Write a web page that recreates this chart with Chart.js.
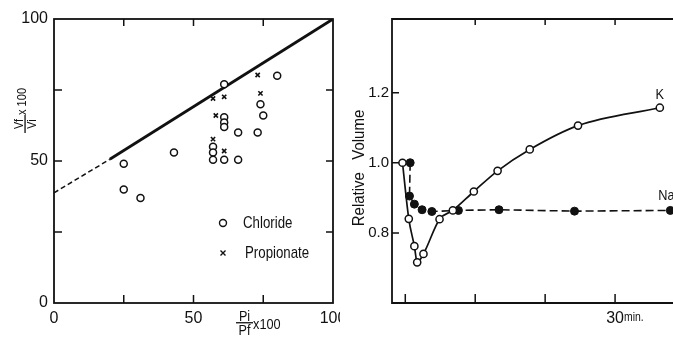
<!DOCTYPE html>
<html>
<head>
<meta charset="utf-8">
<script src="https://cdn.jsdelivr.net/npm/chart.js@4.4.1/dist/chart.umd.min.js"></script>
<style>
  body { margin: 0; background: #fff; width: 673px; height: 337px; overflow: hidden; position: relative; }
  .panel { position: absolute; top: 0; height: 337px; overflow: hidden; }
  #left { left: 0; width: 340px; }
  #right { left: 340px; width: 333px; }
  canvas { position: absolute; top: 0; left: 0; }
</style>
</head>
<body>
<div id="left" class="panel"><canvas id="volChart" width="370" height="337"></canvas></div>
<div id="right" class="panel"><canvas id="timeChart" width="373" height="337"></canvas></div>
<script>
// --- left panel: Vf/Vi x100 vs Pi/Pf x100 ---
const chlorideX = [25, 25, 31, 43, 61, 61, 61, 61, 66, 73, 74, 75, 80, 57, 57, 57, 61, 66];
const chlorideY = [49, 40, 37, 53, 77, 65.4, 63.6, 62, 60, 60, 70, 66, 80, 55, 53, 50.4, 50.4, 50.4];
const propionateX = [57, 61, 58, 57, 61, 73, 74];
const propionateY = [72, 72.6, 66, 57.7, 53.5, 80.3, 73.8];
const fitX = [0, 20, 100];
const fitY = [38.8, 50.6, 100];
const volTicks = [25, 50, 75];
const volLabels = [0, 50, 100];

// --- right panel: relative volume vs time (min) ---
const kTime = [-0.4, 0.5, 1.3, 1.7, 2.6, 4.9, 6.8, 9.8, 13.2, 17.8, 24.7, 36.4];
const kVol = [1.0, 0.84, 0.762, 0.716, 0.74, 0.839, 0.864, 0.918, 0.977, 1.038, 1.106, 1.157];
const naTime = [0.7, 0.6, 1.3, 2.4, 3.8, 7.6, 13.4, 24.2, 37.9];
const naVol = [1.0, 0.905, 0.882, 0.866, 0.861, 0.864, 0.866, 0.862, 0.864];
const timeTicks = [0, 10, 20, 30];
const timeLabels = [0, 30];
const volRelTicks = [0.8, 1.0, 1.2];

const ink = '#111';
const face = '"Liberation Sans Narrow", "Liberation Sans", Arial, sans-serif';

Chart.defaults.font.family = face;
Chart.defaults.color = ink;

function pairs(xs, ys) { return xs.map((x, i) => ({ x: x, y: ys[i] })); }
function near(list, v) { return list.some(t => Math.abs(t - v) < 1e-6); }

// text squeezed sideways, the original lettering is condensed
function squeezed(ctx, text, x, y, sx) {
  ctx.save();
  ctx.translate(x, y);
  ctx.scale(sx, 1);
  ctx.fillText(text, 0, 0);
  ctx.restore();
}

function fraction(ctx, num, den, cx, cy, w, size) {
  ctx.font = size + 'px ' + face;
  ctx.textAlign = 'center';
  ctx.textBaseline = 'alphabetic';
  squeezed(ctx, num, cx, cy - 2, 0.9);
  ctx.fillRect(cx - w / 2, cy - 0.6, w, 1.3);
  ctx.textBaseline = 'top';
  squeezed(ctx, den, cx, cy + 1.5, 0.9);
}

// frame + inward ticks for the left panel
const volFrame = {
  id: 'volFrame',
  beforeDatasetsDraw(chart) {
    const { ctx, chartArea: a, scales: { x, y } } = chart;
    ctx.save();
    ctx.strokeStyle = ink;
    ctx.lineWidth = 1.8;
    ctx.strokeRect(a.left, a.top, a.right - a.left, a.bottom - a.top);
    ctx.lineWidth = 1.5;
    ctx.beginPath();
    volTicks.forEach(v => {
      const px = x.getPixelForValue(v), py = y.getPixelForValue(v);
      ctx.moveTo(px, a.bottom); ctx.lineTo(px, a.bottom - 8);
      ctx.moveTo(px, a.top); ctx.lineTo(px, a.top + 7);
      ctx.moveTo(a.left, py); ctx.lineTo(a.left + 8, py);
      ctx.moveTo(a.right, py); ctx.lineTo(a.right - 7, py);
    });
    ctx.stroke();
    ctx.restore();
  },
  afterDraw(chart) {
    const { ctx } = chart;
    ctx.save();
    ctx.fillStyle = ink;
    ctx.strokeStyle = ink;
    // legend
    ctx.lineWidth = 1.4;
    ctx.beginPath(); ctx.arc(223, 223, 3.5, 0, Math.PI * 2); ctx.stroke();
    ctx.beginPath();
    ctx.moveTo(220.5, 250.5); ctx.lineTo(225.5, 255.5);
    ctx.moveTo(225.5, 250.5); ctx.lineTo(220.5, 255.5);
    ctx.stroke();
    ctx.font = '17px ' + face;
    ctx.textAlign = 'left';
    ctx.textBaseline = 'middle';
    squeezed(ctx, 'Chloride', 243, 223, 0.78);
    squeezed(ctx, 'Propionate', 245, 253, 0.78);
    // x title
    fraction(ctx, 'Pi', 'Pf', 244.5, 322.7, 17, 14);
    ctx.font = '15px ' + face;
    ctx.textAlign = 'left';
    ctx.textBaseline = 'middle';
    squeezed(ctx, 'x100', 253, 325, 0.85);
    // y title (rotated)
    ctx.translate(25, 124);
    ctx.rotate(-Math.PI / 2);
    fraction(ctx, 'Vf', 'Vi', 0, 0, 18, 12);
    ctx.font = '13px ' + face;
    ctx.textAlign = 'left';
    ctx.textBaseline = 'middle';
    squeezed(ctx, 'x 100', 9, -3, 0.85);
    ctx.restore();
  }
};

new Chart(document.getElementById('volChart'), {
  type: 'scatter',
  data: {
    datasets: [
      { label: 'Chloride', data: pairs(chlorideX, chlorideY), pointStyle: 'circle', pointRadius: 3.5,
        borderWidth: 1.5, borderColor: ink, backgroundColor: '#fff' },
      { label: 'Propionate', data: pairs(propionateX, propionateY), pointStyle: 'crossRot', pointRadius: 3,
        borderWidth: 1.6, borderColor: ink },
      { label: 'fit', data: pairs(fitX, fitY), showLine: true, pointRadius: 0, borderColor: ink, borderWidth: 2.8,
        segment: {
          borderDash: c => c.p0DataIndex === 0 ? [5, 3] : [],
          borderWidth: c => c.p0DataIndex === 0 ? 1.5 : 2.8
        } }
    ]
  },
  options: {
    responsive: false,
    animation: false,
    layout: { padding: { left: 0, right: 37, top: 19, bottom: 0 } },
    plugins: { legend: { display: false }, tooltip: { enabled: false } },
    scales: {
      x: {
        type: 'linear', min: 0, max: 100,
        afterFit: s => { s.height = 34; },
        grid: { display: false, drawTicks: false }, border: { display: false },
        ticks: { stepSize: 25, padding: 6, autoSkip: false, maxRotation: 0, font: { size: 16 },
          callback: v => near(volLabels, v) ? String(v) : '' }
      },
      y: {
        min: 0, max: 100,
        afterFit: s => { s.width = 54; },
        grid: { display: false, drawTicks: false }, border: { display: false },
        ticks: { stepSize: 25, padding: 6, autoSkip: false, font: { size: 16 },
          callback: v => near(volLabels, v) ? String(v) : '' }
      }
    }
  },
  plugins: [volFrame]
});

// frame, ticks and notes for the right panel
const timeFrame = {
  id: 'timeFrame',
  beforeDatasetsDraw(chart) {
    const { ctx, chartArea: a, scales: { x, y } } = chart;
    ctx.save();
    ctx.strokeStyle = ink;
    ctx.lineWidth = 1.8;
    ctx.beginPath();
    ctx.moveTo(a.right + 5, a.top); ctx.lineTo(a.left, a.top);
    ctx.lineTo(a.left, a.bottom); ctx.lineTo(a.right + 5, a.bottom);
    ctx.stroke();
    ctx.lineWidth = 1.5;
    ctx.beginPath();
    timeTicks.forEach(v => {
      const px = x.getPixelForValue(v);
      ctx.moveTo(px, a.bottom); ctx.lineTo(px, a.bottom - 9);
      if (v > 0) { ctx.moveTo(px, a.top); ctx.lineTo(px, a.top + 6); }
    });
    volRelTicks.forEach(v => {
      const py = y.getPixelForValue(v);
      ctx.moveTo(a.left, py); ctx.lineTo(a.left + 7, py);
    });
    ctx.stroke();
    ctx.restore();
  },
  afterDraw(chart) {
    const { ctx, scales: { x, y } } = chart;
    ctx.save();
    ctx.fillStyle = ink;
    ctx.textBaseline = 'middle';
    ctx.font = '15px ' + face;
    ctx.textAlign = 'center';
    squeezed(ctx, 'K', x.getPixelForValue(kTime[kTime.length - 1]), y.getPixelForValue(kVol[kVol.length - 1]) - 13, 0.85);
    ctx.textAlign = 'left';
    squeezed(ctx, 'Na', x.getPixelForValue(naTime[naTime.length - 1]) - 12, y.getPixelForValue(naVol[naVol.length - 1]) - 15, 0.85);
    ctx.font = '13px ' + face;
    squeezed(ctx, 'min.', x.getPixelForValue(30) + 9, 317, 0.8);
    ctx.font = '17px ' + face;
    ctx.translate(19, 168);
    ctx.rotate(-Math.PI / 2);
    ctx.textAlign = 'center';
    squeezed(ctx, 'Relative   Volume', 0, 0, 0.88);
    ctx.restore();
  }
};

new Chart(document.getElementById('timeChart'), {
  type: 'line',
  data: {
    datasets: [
      { label: 'K', data: pairs(kTime, kVol), borderColor: ink, borderWidth: 1.7, cubicInterpolationMode: 'monotone',
        pointStyle: 'circle', pointRadius: 3.6, pointBorderWidth: 1.5, pointBorderColor: ink, pointBackgroundColor: '#fff' },
      { label: 'Na', data: pairs(naTime, naVol), borderColor: ink, borderWidth: 1.6, borderDash: [8, 4], tension: 0,
        pointStyle: 'circle', pointRadius: 4, pointBorderWidth: 1, pointBorderColor: ink, pointBackgroundColor: ink }
    ]
  },
  options: {
    responsive: false,
    animation: false,
    layout: { padding: { left: 0, right: 28, top: 19, bottom: 0 } },
    plugins: { legend: { display: false }, tooltip: { enabled: false } },
    scales: {
      x: {
        type: 'linear', min: -1.9, max: 40,
        afterFit: s => { s.height = 34; },
        grid: { display: false, drawTicks: false }, border: { display: false },
        ticks: { stepSize: 10, padding: 6, autoSkip: false, maxRotation: 0, font: { size: 16 },
          callback: v => near(timeLabels, v) ? String(v) : '' }
      },
      y: {
        min: 0.6, max: 1.41,
        afterFit: s => { s.width = 52; },
        grid: { display: false, drawTicks: false }, border: { display: false },
        ticks: { stepSize: 0.2, padding: 3, autoSkip: false, font: { size: 15 },
          callback: v => near(volRelTicks, v) ? v.toFixed(1) : '' }
      }
    }
  },
  plugins: [timeFrame]
});
</script>
</body>
</html>
